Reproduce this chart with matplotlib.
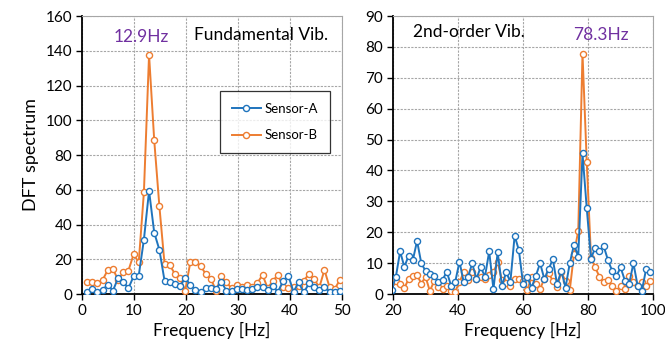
import numpy as np
import matplotlib
matplotlib.use("Agg")
import matplotlib.pyplot as plt

plt.rcParams['font.family'] = ['Lato', 'DejaVu Sans']

# Fundamental band: bins k = 1..50, resolution ~0.992 Hz
df_fund = 0.992
fund_a = [1.3, 2.9, 1.3, 2.5, 5.4, 1.9, 9.3, 7.1, 3.3, 10.2,
          10.6, 31.3, 59.4, 35.4, 25.5, 7.7, 7.1, 5.8, 4.4, 9.3,
          5.2, 2.5, 0.9, 3.3, 3.3, 3.0, 7.1, 1.9, 1.9, 2.9,
          2.9, 2.3, 2.9, 3.8, 3.8, 2.3, 4.4, 1.3, 7.7, 10.6,
          1.3, 6.7, 0.9, 6.1, 3.8, 2.3, 3.8, 1.3, 0.9, 1.9]
fund_b = [6.7, 6.7, 6.1, 8.1, 13.9, 14.5, 8.1, 12.5, 13.5, 22.8,
          18.3, 58.6, 137.7, 88.5, 50.6, 17.4, 16.8, 11.6, 9.3, 1.9,
          18.3, 18.7, 16.0, 11.6, 8.7, 1.9, 10.2, 6.7, 3.3, 5.2,
          3.8, 5.2, 3.8, 6.4, 11.0, 3.3, 7.7, 11.0, 3.8, 3.3,
          3.8, 4.4, 7.7, 11.6, 8.7, 3.8, 13.9, 3.8, 2.9, 8.3]

# 2nd-order band: bins k = 15..76, resolution ~1.305 Hz
df_sec = 1.305
sec_a = [1.4, 5.6, 13.8, 8.8, 12.4, 11.0, 17.2, 9.9, 7.5, 6.5,
         5.9, 3.8, 4.5, 7.3, 2.7, 4.0, 10.5, 3.8, 5.6, 9.9,
         4.9, 8.8, 5.6, 13.8, 1.6, 13.5, 2.7, 7.0, 4.0, 18.9,
         14.2, 3.2, 5.4, 2.1, 5.9, 10.0, 4.9, 8.0, 11.3, 3.2,
         7.5, 2.1, 10.0, 16.0, 12.1, 45.5, 27.8, 11.5, 15.0, 14.0,
         15.5, 11.0, 7.5, 5.9, 8.6, 4.3, 3.2, 10.0, 2.7, 1.1,
         8.1, 7.0]
sec_b = [3.8, 4.3, 3.4, 1.9, 4.9, 5.9, 6.1, 3.4, 5.6, 1.0,
         4.1, 2.4, 1.6, 2.7, 1.1, 0.8, 3.9, 7.1, 4.5, 7.3,
         5.0, 5.6, 5.0, 6.1, 7.1, 10.3, 4.5, 3.5, 2.5, 4.9,
         4.9, 4.3, 1.4, 5.5, 3.3, 1.7, 4.9, 6.8, 4.3, 2.2,
         7.0, 4.3, 1.3, 13.1, 20.5, 77.8, 42.9, 11.8, 8.6, 5.6,
         3.8, 4.5, 2.7, 1.1, 2.7, 1.6, 5.9, 3.8, 2.7, 3.8,
         2.7, 4.3]

freq_fund = df_fund * np.arange(1, 1 + len(fund_a))
freq_sec = df_sec * np.arange(15, 15 + len(sec_a))

c_a = '#1f74bd'
c_b = '#ed7d31'
c_peak = '#7030a0'

fig = plt.figure(figsize=(6.65, 3.56), dpi=100)
ax1 = fig.add_axes([0.1233, 0.174, 0.391, 0.781])
ax2 = fig.add_axes([0.591, 0.174, 0.391, 0.781])


def style_axis(ax, xlim, xstep, ylim, ystep):
    ax.set_xlim(*xlim)
    ax.set_ylim(*ylim)
    ax.set_xticks(np.arange(xlim[0], xlim[1] + 0.1, xstep))
    ax.set_yticks(np.arange(ylim[0], ylim[1] + 0.1, ystep))
    ax.grid(True, color='#a6a6a6', linestyle=(0, (2, 1.2)), linewidth=0.8)
    ax.set_axisbelow(True)
    for s in ('top', 'right'):
        ax.spines[s].set_color('#a6a6a6')
        ax.spines[s].set_linewidth(0.8)
    for s in ('left', 'bottom'):
        ax.spines[s].set_color('black')
        ax.spines[s].set_linewidth(1.3)
    ax.tick_params(direction='out', length=4, width=1.0, labelsize=11, pad=3)
    ax.set_xlabel('Frequency [Hz]', fontsize=12.5, labelpad=3)


mk = dict(marker='o', markersize=4.4, markerfacecolor='white',
          markeredgewidth=1.0, linewidth=1.4)

ax1.plot(freq_fund, fund_b, color=c_b, label='Sensor-B', zorder=3, **mk)
ax1.plot(freq_fund, fund_a, color=c_a, label='Sensor-A', zorder=4, **mk)
style_axis(ax1, (0, 50), 10, (0, 160), 20)
ax1.set_ylabel('DFT spectrum', fontsize=13, labelpad=5)
ax1.text(11.4, 148, '12.9Hz', color=c_peak, fontsize=12.5, ha='center', va='center')
ax1.text(21.6, 149, 'Fundamental Vib.', color='black', fontsize=12.5, ha='left', va='center')

handles, labels = ax1.get_legend_handles_labels()
leg = ax1.legend(handles[::-1], labels[::-1], loc='upper right',
                 bbox_to_anchor=(0.955, 0.73), fontsize=9.5, frameon=True,
                 fancybox=False, edgecolor='black', handlelength=2.2,
                 handletextpad=0.3, labelspacing=1.1, borderpad=0.9,
                 borderaxespad=0)
leg.get_frame().set_linewidth(0.9)

ax2.plot(freq_sec, sec_b, color=c_b, zorder=3, **mk)
ax2.plot(freq_sec, sec_a, color=c_a, zorder=4, **mk)
style_axis(ax2, (20, 100), 20, (0, 90), 10)
ax2.text(84.1, 83.8, '78.3Hz', color=c_peak, fontsize=12.5, ha='center', va='center')
ax2.text(26.3, 84.8, '2nd-order Vib.', color='black', fontsize=12.5, ha='left', va='center')

fig.savefig('out.png', dpi=100)
